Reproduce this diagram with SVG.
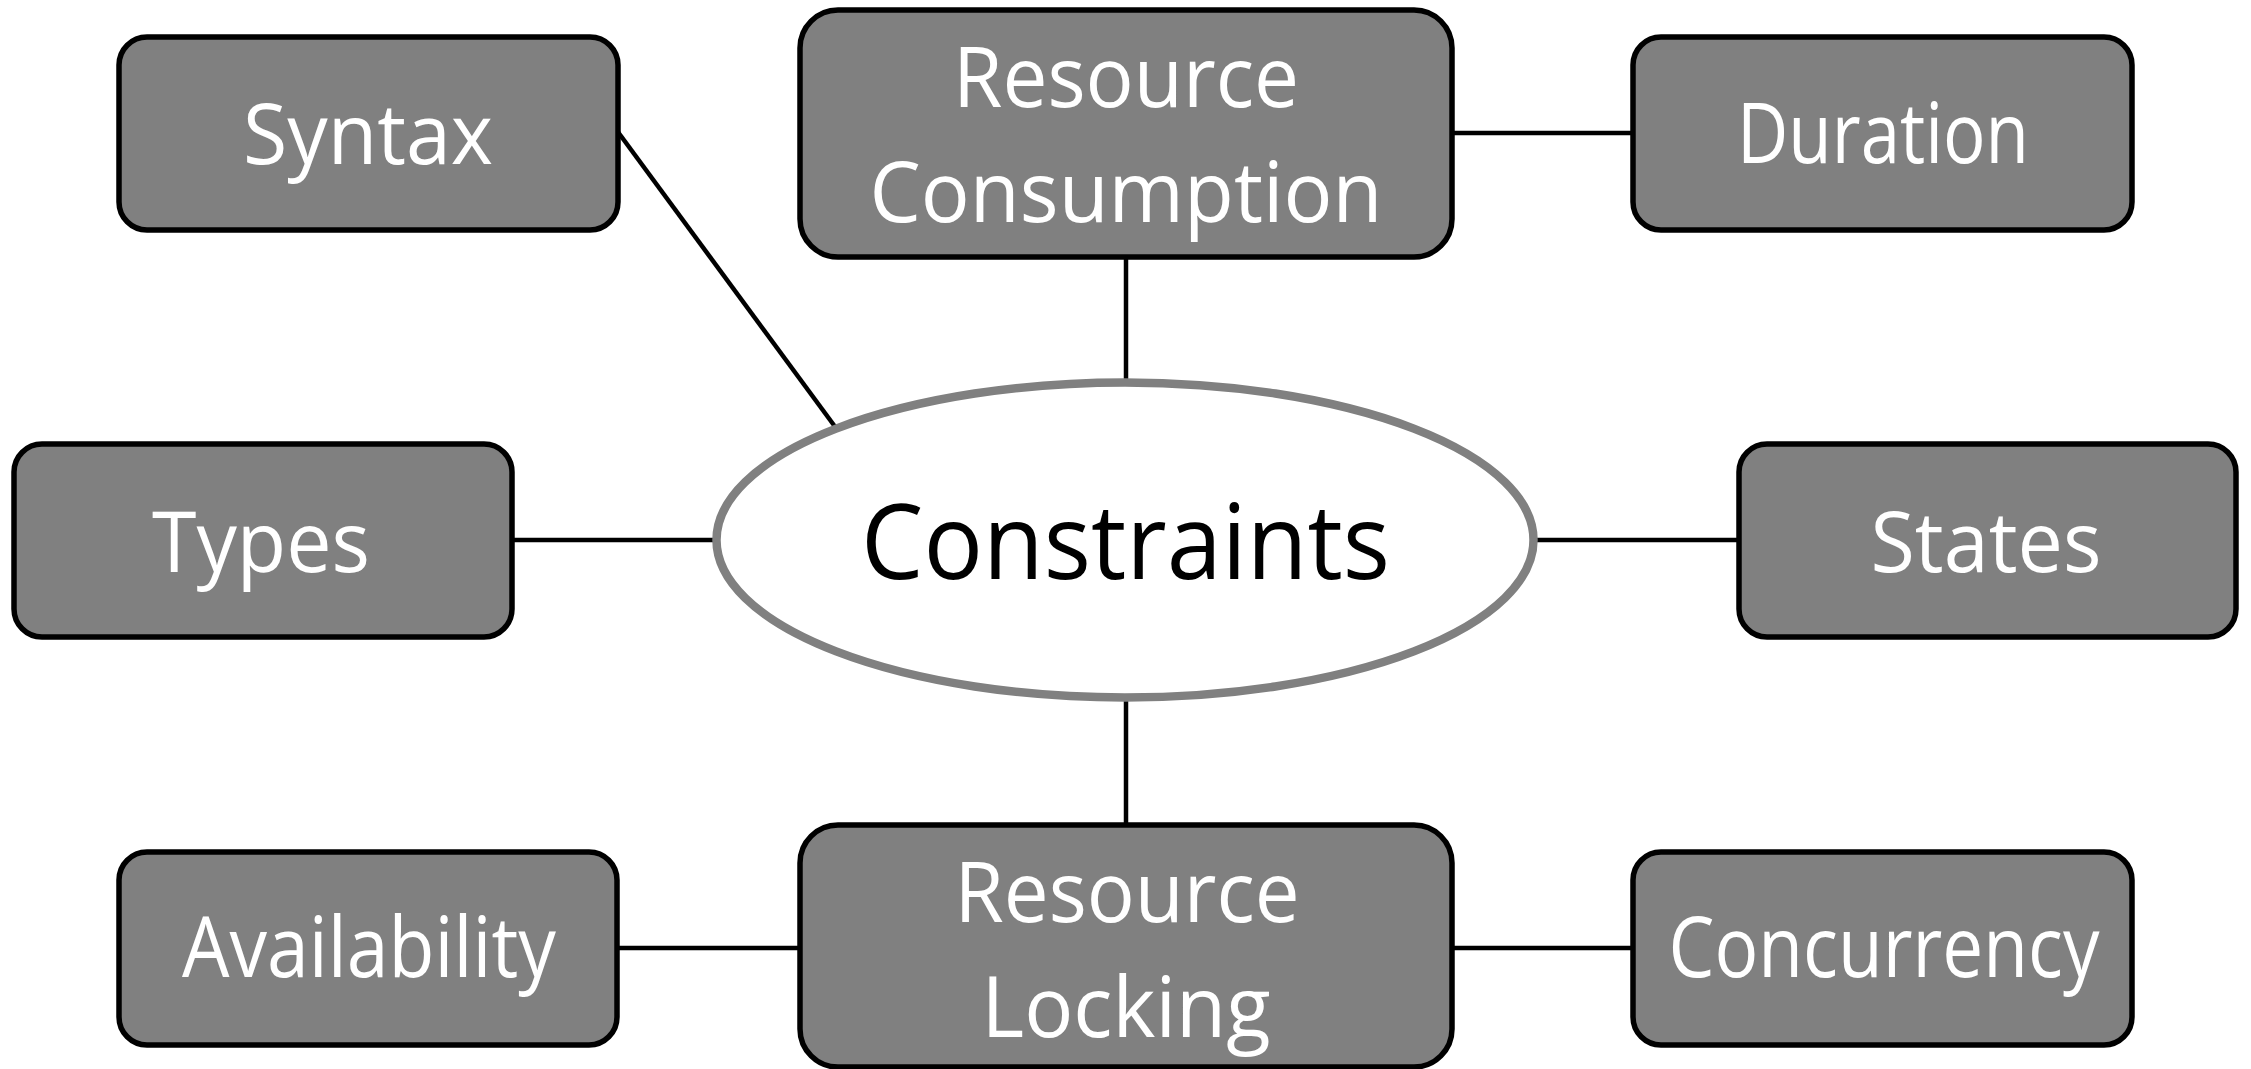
<svg xmlns="http://www.w3.org/2000/svg" width="2251" height="1069" viewBox="0 0 2251 1069">
  <style>
    .box { fill: #808080; stroke: #000000; stroke-width: 5.5; }
    .lbl { fill: #ffffff; font-family: "Open Sans", "Noto Sans", "Liberation Sans", sans-serif; font-size: 84px; text-anchor: middle; }
    .hub { fill: #ffffff; stroke: #808080; stroke-width: 8.5; }
    .hub-lbl { fill: #000000; font-family: "Open Sans", "Noto Sans", "Liberation Sans", sans-serif; font-size: 105px; text-anchor: middle; }
    .link { stroke: #000000; stroke-width: 4.5; fill: none; }
  </style>
  <rect width="2251" height="1069" fill="#ffffff"/>

  <!-- connectors -->
  <g id="connectors">
    <line class="link" x1="618" y1="132" x2="836" y2="428"/>
    <line class="link" x1="1126" y1="257" x2="1126" y2="382"/>
    <line class="link" x1="1452" y1="133" x2="1633" y2="133"/>
    <line class="link" x1="512" y1="540" x2="714" y2="540"/>
    <line class="link" x1="1536" y1="540" x2="1739" y2="540"/>
    <line class="link" x1="1126" y1="698" x2="1126" y2="825"/>
    <line class="link" x1="617" y1="948" x2="800" y2="948"/>
    <line class="link" x1="1452" y1="948" x2="1633" y2="948"/>
  </g>

  <!-- central hub -->
  <g id="constraints">
    <ellipse class="hub" cx="1125" cy="540" rx="408.5" ry="157.5"/>
    <text class="hub-lbl" x="1125.5" y="579" textLength="529" lengthAdjust="spacingAndGlyphs">Constraints</text>
  </g>

  <g id="syntax">
    <rect class="box" x="119" y="37" width="499" height="193" rx="28"/>
    <text class="lbl" x="368" y="164" textLength="250" lengthAdjust="spacingAndGlyphs">Syntax</text>
  </g>

  <g id="resource-consumption">
    <rect class="box" x="800" y="10" width="652" height="247" rx="38"/>
    <text class="lbl" x="1126" y="107" textLength="346" lengthAdjust="spacingAndGlyphs">Resource</text>
    <text class="lbl" x="1126" y="222" textLength="513" lengthAdjust="spacingAndGlyphs">Consumption</text>
  </g>

  <g id="duration">
    <rect class="box" x="1633" y="37" width="499" height="193" rx="28"/>
    <text class="lbl" x="1883" y="163" textLength="292" lengthAdjust="spacingAndGlyphs">Duration</text>
  </g>

  <g id="types">
    <rect class="box" x="14" y="444" width="498" height="193" rx="28"/>
    <text class="lbl" x="261" y="572" textLength="218" lengthAdjust="spacingAndGlyphs">Types</text>
  </g>

  <g id="states">
    <rect class="box" x="1739" y="444" width="497" height="193" rx="28"/>
    <text class="lbl" x="1986" y="572" textLength="231" lengthAdjust="spacingAndGlyphs">States</text>
  </g>

  <g id="availability">
    <rect class="box" x="119" y="852" width="498" height="193" rx="28"/>
    <text class="lbl" x="369" y="977" textLength="374" lengthAdjust="spacingAndGlyphs">Availability</text>
  </g>

  <g id="resource-locking">
    <rect class="box" x="800" y="825" width="652" height="242" rx="38"/>
    <text class="lbl" x="1127" y="922" textLength="345" lengthAdjust="spacingAndGlyphs">Resource</text>
    <text class="lbl" x="1126" y="1037" textLength="289" lengthAdjust="spacingAndGlyphs">Locking</text>
  </g>

  <g id="concurrency">
    <rect class="box" x="1633" y="852" width="499" height="193" rx="28"/>
    <text class="lbl" x="1884" y="977" textLength="431" lengthAdjust="spacingAndGlyphs">Concurrency</text>
  </g>
</svg>
